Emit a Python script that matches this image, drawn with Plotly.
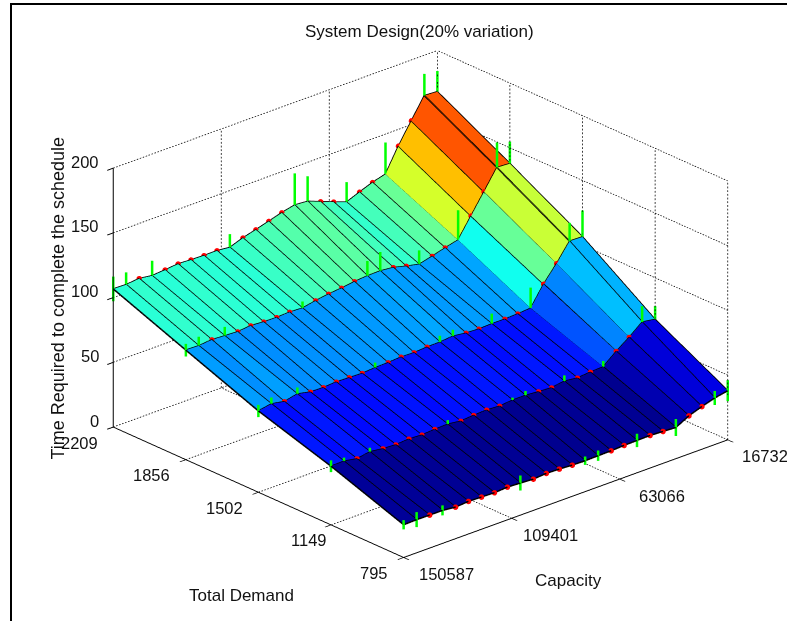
import plotly.graph_objects as go

capacity_ticks = ["150587", "109401", "63066", "16732"]
demand_ticks = ["795", "1149", "1502", "1856", "2209"]
z_ticks = [0, 50, 100, 150, 200]

# rows run from demand 795 to demand 2209, columns from capacity 150587 to 16732
time_d795 = [25.3,25.6,25.5,25.5,24.4,25.2,24.9,24.6,25.3,24.8,24.2,25.0,24.7,24.1,23.9,24.1,24.3,24.8,25.0,25.2,24.7,24.1,29.5,33.0,36.0,38.0]
time_d1149 = [45.3,45.5,43.7,45.5,44.2,43.6,44.4,43.9,44.6,45.0,43.7,44.5,45.0,44.4,45.4,45.4,44.6,44.0,45.5,44.3,45.2,45.7,54.0,61.2,69.4,67.8]
time_d1502 = [62.8,64.6,62.7,65.0,62.8,62.6,63.3,63.0,62.7,63.4,63.7,64.4,64.1,64.8,65.0,66.0,64.7,64.2,64.6,64.6,65.0,65.8,80.8,93.0,106.7,106.4]
time_d1856 = [84.6,84.3,85.3,84.7,84.2,85.2,84.5,84.3,84.8,84.3,86.3,87.8,88.8,90.2,91.0,91.2,90.2,87.6,85.4,88.0,90.8,93.3,108.3,123.3,138.4,137.8]
time_d2209 = [106.7,106.4,107.4,106.0,106.8,107.8,107.3,107.0,107.1,106.0,109.7,112.4,115.3,118.3,120.6,119.8,115.9,112.0,108.3,112.4,116.2,119.0,137.1,153.0,168.8,168.2]
rows = [time_d795, time_d1149, time_d1502, time_d1856, time_d2209]

# columns that carry an error bar, and the half-length of the bar per row
err_cols = [0,1,3,9,14,15,18,21,24,25]
err_d795 = [3.6,5.8,3.9,5.8,3.2,4.0,5.2,6.6,5.4,8.1]
err_d1149 = [4.5,2.8,3.2,3.2,2.0,3.5,4.6,4.6,12.4,10.3]
err_d1502 = [4.7,5.0,5.0,4.0,5.0,5.0,8.0,16.0,14.2,20.4]
err_d1856 = [4.9,7.0,7.0,5.2,11.6,14.7,10.9,23.0,19.4,17.0]
err_d2209 = [9.5,9.5,11.6,10.3,24.5,19.4,15.5,24.5,16.8,16.0]
errs = [err_d795, err_d1149, err_d1502, err_d1856, err_d2209]

nc, nr = len(time_d795), len(rows)
xmax, ymax = nc - 1, nr - 1
xt = [i * xmax / (len(capacity_ticks) - 1) for i in range(len(capacity_ticks))]
yt = list(range(nr))
zmin, zmax = z_ticks[0], z_ticks[-1]

jet = [[0, "rgb(0,0,143)"], [0.125, "rgb(0,0,255)"], [0.375, "rgb(0,255,255)"],
       [0.625, "rgb(255,255,0)"], [0.875, "rgb(255,0,0)"], [1, "rgb(128,0,0)"]]

vx, vy, vz = [], [], []
for r in range(nr):
    for c in range(nc):
        vx.append(c); vy.append(r); vz.append(rows[r][c])
I, J, K, cell = [], [], [], []
for r in range(nr - 1):
    for c in range(nc - 1):
        a = r * nc + c; b = a + 1; d = a + nc; e = d + 1
        I += [a, a]; J += [b, e]; K += [e, d]
        cell += [rows[r][c + 1]] * 2

fig = go.Figure()
fig.add_trace(go.Mesh3d(x=vx, y=vy, z=vz, i=I, j=J, k=K, intensity=cell, intensitymode="cell",
                        colorscale=jet, showscale=False, flatshading=True, hoverinfo="skip",
                        cmin=min(vz), cmax=max(vz),
                        lighting=dict(ambient=1, diffuse=0, specular=0, roughness=1, fresnel=0)))

# black surface edges
ex, ey, ez = [], [], []
for r in range(nr):
    ex += list(range(nc)) + [None]; ey += [r] * nc + [None]; ez += rows[r] + [None]
for c in range(nc):
    ex += [c] * nr + [None]; ey += list(range(nr)) + [None]; ez += [rows[r][c] for r in range(nr)] + [None]
fig.add_trace(go.Scatter3d(x=ex, y=ey, z=ez, mode="lines", line=dict(color="black", width=3), hoverinfo="skip"))

# dotted grid, broken up into short dashes
DOTS = 110
gx, gy, gz = [], [], []
def seg(p, q, n=DOTS):
    for s in range(n):
        t0, t1 = s / n, (s + 0.5) / n
        gx.extend([p[0] + (q[0] - p[0]) * t0, p[0] + (q[0] - p[0]) * t1, None])
        gy.extend([p[1] + (q[1] - p[1]) * t0, p[1] + (q[1] - p[1]) * t1, None])
        gz.extend([p[2] + (q[2] - p[2]) * t0, p[2] + (q[2] - p[2]) * t1, None])
for z in z_ticks:
    seg((0, ymax, z), (xmax, ymax, z)); seg((xmax, 0, z), (xmax, ymax, z))
for x in xt:
    seg((x, 0, zmin), (x, ymax, zmin)); seg((x, ymax, zmin), (x, ymax, zmax), 70)
for y in yt:
    seg((0, y, zmin), (xmax, y, zmin)); seg((xmax, y, zmin), (xmax, y, zmax), 70)
fig.add_trace(go.Scatter3d(x=gx, y=gy, z=gz, mode="lines", line=dict(color="black", width=1.5), hoverinfo="skip"))

# red markers on columns without an error bar
mx, my, mz = [], [], []
for r in range(nr):
    for c in range(nc):
        if c not in err_cols:
            mx.append(c); my.append(r); mz.append(rows[r][c])
fig.add_trace(go.Scatter3d(x=mx, y=my, z=mz, mode="markers", marker=dict(color="#ff0000", size=3.2, line=dict(width=0)), hoverinfo="skip"))

# green error bars
bx, by, bz = [], [], []
for r in range(nr):
    for c, e in zip(err_cols, errs[r]):
        bx += [c, c, None]; by += [r, r, None]; bz += [rows[r][c] - e, rows[r][c] + e, None]
fig.add_trace(go.Scatter3d(x=bx, y=by, z=bz, mode="lines", line=dict(color="#00ff00", width=5), hoverinfo="skip"))

ax = dict(showgrid=False, zeroline=False, showbackground=False, showspikes=False, title=dict(text=""),
          showline=True, linecolor="black", linewidth=2, ticks="outside", ticklen=8, tickcolor="black", tickwidth=2,
          showticklabels=False)
font = dict(family="Liberation Sans", size=17, color="#111111")
tick_font = dict(family="Liberation Sans", size=16.5, color="#111111")
zlabel_font = dict(family="Liberation Sans", size=18, color="#111111")

scene_notes = []
for v in z_ticks:
    scene_notes.append(dict(x=0, y=ymax, z=v, text=str(v), showarrow=False, xanchor="right", yanchor="middle", xshift=-12, yshift=6, font=tick_font))
for v, label, dx in zip(yt, demand_ticks, [-13, -3, -13, -13, -13]):
    scene_notes.append(dict(x=0, y=v, z=zmin, text=label, showarrow=False, xanchor="right", yanchor="middle", xshift=dx, yshift=-16, font=tick_font))
for v, label, dx in zip(xt, capacity_ticks, [14, 10, 18, 13]):
    scene_notes.append(dict(x=v, y=0, z=zmin, text=label, showarrow=False, xanchor="left", yanchor="middle", xshift=dx, yshift=-17, font=tick_font))

fig.update_layout(
    width=787, height=621, margin=dict(l=0, r=0, t=0, b=0), paper_bgcolor="white", showlegend=False,
    scene=dict(
        domain=dict(x=[61.5/787, 778.5/787], y=[1-586.5/621, 1-20.5/621]),
        xaxis=dict(ax, range=[0, xmax], tickmode="array", tickvals=xt),
        yaxis=dict(ax, range=[0, ymax], tickmode="array", tickvals=yt),
        zaxis=dict(ax, range=[zmin, zmax], tickmode="array", tickvals=z_ticks),
        aspectmode="manual", aspectratio=dict(x=1.54, y=1.535, z=1),
        camera=dict(projection=dict(type="orthographic"), up=dict(x=0, y=0, z=1), center=dict(x=0, y=0, z=0),
                    eye=dict(x=-1.371, y=-1.525, z=0.905)),
        annotations=scene_notes,
    ),
    annotations=[
        dict(text="System Design(20% variation)", x=419/787, y=1-31/621, xref="paper", yref="paper", xanchor="center", yanchor="middle", showarrow=False, font=font),
        dict(text="Total Demand", x=241/787, y=1-595/621, xref="paper", yref="paper", xanchor="center", yanchor="middle", showarrow=False, font=font),
        dict(text="Capacity", x=568/787, y=1-580/621, xref="paper", yref="paper", xanchor="center", yanchor="middle", showarrow=False, font=font),
        dict(text="Time Required to complete the schedule", x=57/787, y=1-298.5/621, xref="paper", yref="paper", xanchor="center", yanchor="middle", showarrow=False, textangle=-90, font=zlabel_font),
    ],
    shapes=[
        dict(type="line", xref="paper", yref="paper", x0=11/787, x1=1, y0=1-4/621, y1=1-4/621, line=dict(color="black", width=2)),
        dict(type="line", xref="paper", yref="paper", x0=11/787, x1=11/787, y0=0, y1=1-3/621, line=dict(color="black", width=2)),
    ],
)
fig.write_html("out.html", config=dict(displayModeBar=False), post_script="document.body.style.margin='0';")
